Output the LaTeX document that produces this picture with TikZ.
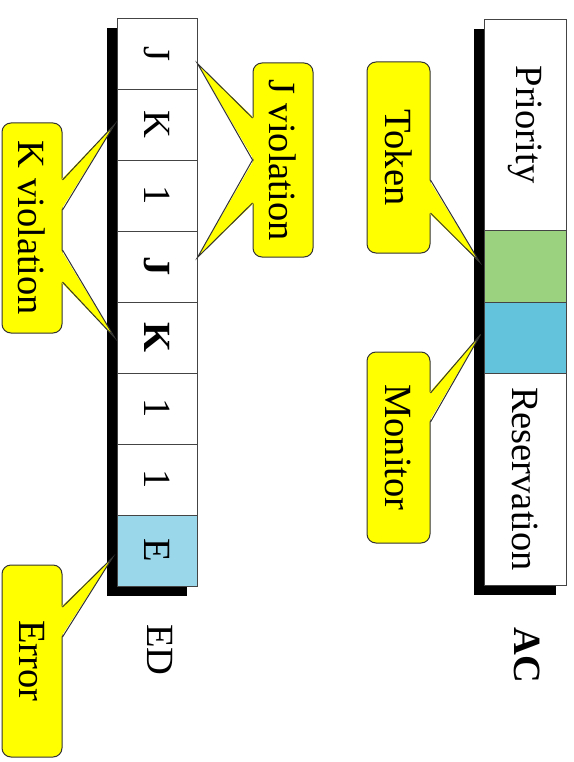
\documentclass[tikz,border=0pt]{standalone}
\usepackage{fontspec}
\setmainfont{Liberation Serif}
\usepackage{xcolor}
\usepackage{tikz}
\usetikzlibrary{calc}
\definecolor{C_TOK} {HTML}{9BD280}
\definecolor{C_MON} {HTML}{64C3DC}
\definecolor{C_ERR} {HTML}{9BD7EB}
\definecolor{C_CALL}{HTML}{FFFF00}
\definecolor{C_EDGE}{HTML}{444444}
\tikzset{
  %% -- frame cell, text runs top to bottom --
  col/cell/.style={
    draw=C_EDGE, line width=0.9pt, fill=white, rotate=-90, inner sep=0pt,
    font=\fontsize{38.5pt}{40pt}\selectfont
  },
  %% -- drop shadow behind a frame --
  col/shadow/.style={fill=black},
  %% -- yellow callout box --
  call/box/.style={
    draw=black!80, line width=1pt, fill=C_CALL, rounded corners=9pt, rotate=-90,
    inner sep=0pt, font=\fontsize{38.5pt}{40pt}\selectfont
  },
  %% -- callout pointer (fill hides the box edge at the base) --
  call/fill/.style={fill=C_CALL},
  call/edge/.style={draw=black!80, line width=1pt, line join=miter},
  %% -- frame name under a column --
  tag/lbl/.style={rotate=-90, font=\fontsize{38.5pt}{40pt}\selectfont},
}

\begin{document}
\begin{tikzpicture}[x=1pt, y=-1pt]
\useasboundingbox (0,0) rectangle (573,762);

%% ── Column x-positions ───────────────────────────────────────
\pgfmathsetmacro{\xED}{157}   % ED frame
\pgfmathsetmacro{\xAC}{525}   % AC frame

%% ── Shadows ──────────────────────────────────────────────────
\fill[col/shadow] (\xED-50,28) rectangle (\xED+30,596);
\fill[col/shadow] (\xAC-51,29) rectangle (\xAC+31,595);

%% ── AC frame ─────────────────────────────────────────────────
\node[col/cell, minimum width=211pt, minimum height=82pt] (acP) at (\xAC,124.5)
  {Priority};
\node[col/cell, fill=C_TOK, minimum width=72pt, minimum height=82pt] (acT) at (\xAC,266)
  {};
\node[col/cell, fill=C_MON, minimum width=71pt, minimum height=82pt] (acM) at (\xAC,337.5)
  {};
\node[col/cell, minimum width=212pt, minimum height=82pt] (acR) at (\xAC,479)
  {Reservation};

%% ── ED frame ─────────────────────────────────────────────────
\node[col/cell, minimum width=71pt, minimum height=80pt] (ed1) at (\xED,53.5)  {J};
\node[col/cell, minimum width=71pt, minimum height=80pt] (ed2) at (\xED,124.5) {K};
\node[col/cell, minimum width=71pt, minimum height=80pt] (ed3) at (\xED,195.5) {1};
\node[col/cell, minimum width=71pt, minimum height=80pt] (ed4) at (\xED,266.5) {\textbf{J}};
\node[col/cell, minimum width=71pt, minimum height=80pt] (ed5) at (\xED,337.5) {\textbf{K}};
\node[col/cell, minimum width=71pt, minimum height=80pt] (ed6) at (\xED,408.5) {1};
\node[col/cell, minimum width=71pt, minimum height=80pt] (ed7) at (\xED,479.5) {1};
\node[col/cell, fill=C_ERR, minimum width=71pt, minimum height=80pt] (ed8) at (\xED,550.5) {E};

%% ── Frame names ──────────────────────────────────────────────
\node[tag/lbl] (acLbl) at (527,655) {\textbf{AC}};
\node[tag/lbl] (edLbl) at (160,650) {ED};

%% ── Callout: Token ───────────────────────────────────────────
\node[call/box, minimum width=191pt, minimum height=63pt] (tok) at (398.5,157.5)
  {Token};
\coordinate (tokTip) at ($(acT.south)+(-4,-4)$);
\fill[call/fill] ($(tok.north)+(-1.5,22.5)$) -- (tokTip) -- ($(tok.north)+(-1.5,55.5)$) -- cycle;
\draw[call/edge] ($(tok.north)+(0,22.5)$) -- (tokTip) -- ($(tok.north)+(0,55.5)$);

%% ── Callout: Monitor ─────────────────────────────────────────
\node[call/box, minimum width=191pt, minimum height=63pt] (mon) at (398.5,447.5)
  {Monitor};
\coordinate (monTip) at ($(acM.south)+(-3,-3)$);
\fill[call/fill] ($(mon.north)+(-1.5,-54.5)$) -- (monTip) -- ($(mon.north)+(-1.5,-25.5)$) -- cycle;
\draw[call/edge] ($(mon.north)+(0,-54.5)$) -- (monTip) -- ($(mon.north)+(0,-25.5)$);

%% ── Callout: J violation (two pointers) ─────────────────────
\node[call/box, minimum width=194pt, minimum height=60pt] (jv) at (283,160)
  {J violation};
\coordinate (jvTipA) at ($(ed1.north)+(0,10)$);
\coordinate (jvTipB) at ($(ed4.north)+(0,-9)$);
\fill[call/fill] ($(jv.south)+(1.5,-42)$) -- (jvTipA) -- ($(jv.south)+(1.5,0)$)
  -- (jvTipB) -- ($(jv.south)+(1.5,43)$) -- cycle;
\draw[call/edge] ($(jv.south)+(0,-42)$) -- (jvTipA) -- (jv.south)
  -- (jvTipB) -- ($(jv.south)+(0,43)$);

%% ── Callout: K violation (two pointers) ─────────────────────
\node[call/box, minimum width=210pt, minimum height=60pt] (kv) at (32,228)
  {K violation};
\coordinate (kvTipA) at ($(ed2.south)+(-2,0)$);
\coordinate (kvTipB) at ($(ed5.south)+(-2,0)$);
\fill[call/fill] ($(kv.north)+(-1.5,-48)$) -- (kvTipA) -- ($(kv.north)+(-1.5,-18)$) -- cycle;
\fill[call/fill] ($(kv.north)+(-1.5,22)$) -- (kvTipB) -- ($(kv.north)+(-1.5,54)$) -- cycle;
\draw[call/edge] ($(kv.north)+(0,-48)$) -- (kvTipA) -- ($(kv.north)+(0,-18)$);
\draw[call/edge] ($(kv.north)+(0,22)$) -- (kvTipB) -- ($(kv.north)+(0,54)$);

%% ── Callout: Error ───────────────────────────────────────────
\node[call/box, minimum width=192pt, minimum height=60pt] (err) at (32,661)
  {Error};
\coordinate (errTip) at ($(ed8.south)+(-4,7)$);
\fill[call/fill] ($(err.north)+(-1.5,-54)$) -- (errTip) -- ($(err.north)+(-1.5,-24)$) -- cycle;
\draw[call/edge] ($(err.north)+(0,-54)$) -- (errTip) -- ($(err.north)+(0,-24)$);

\end{tikzpicture}
\end{document}
